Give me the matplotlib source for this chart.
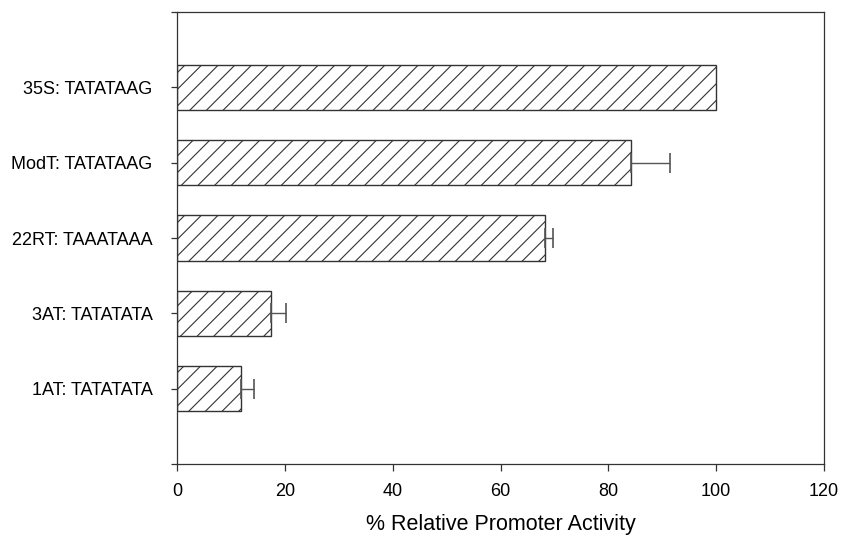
import matplotlib
matplotlib.use("Agg")
import matplotlib.pyplot as plt

# Promoter constructs (bottom to top) and their activity relative to 35S
constructs = ["1AT: TATATATA", "3AT: TATATATA", "22RT: TAAATAAA",
              "ModT: TATATAAG", "35S: TATATAAG"]
activity = [11.9, 17.4, 68.3, 84.2, 100.0]
activity_err = [2.3, 2.8, 1.5, 7.3, 0.0]
x_ticks = [0, 20, 40, 60, 80, 100, 120]

plt.rcParams["font.family"] = ["Liberation Sans", "DejaVu Sans"]
plt.rcParams["hatch.linewidth"] = 0.8
plt.rcParams["hatch.color"] = "#222222"

fig = plt.figure(figsize=(8.43, 5.38), dpi=100)
ax = fig.add_axes([0.210, 0.1375, 0.7675, 0.8402])

positions = list(range(1, len(constructs) + 1))
ax.barh(positions, activity, height=0.6, color="white",
        edgecolor="#333333", linewidth=1.0, hatch="//", zorder=2)

# one-sided (positive) error bars, only where an error was measured
err_pos = [p for p, e in zip(positions, activity_err) if e > 0]
err_val = [v for v, e in zip(activity, activity_err) if e > 0]
err_len = [e for e in activity_err if e > 0]
ax.errorbar(err_val, err_pos, xerr=[[0] * len(err_len), err_len],
            fmt="none", ecolor="#555555", elinewidth=1.0, capsize=7,
            capthick=1.2, zorder=3)

ax.set_xlim(0, 120)
ax.set_ylim(0, len(constructs) + 1)
ax.set_xticks(x_ticks)
ax.set_xticklabels([str(t) for t in x_ticks], fontsize=13)
ax.set_yticks(range(0, len(constructs) + 2))
ax.set_yticklabels([""] + constructs + [""], fontsize=13)

ax.tick_params(axis="x", direction="out", length=5, width=0.9, pad=9,
               color="#333333")
ax.tick_params(axis="y", direction="out", length=4.5, width=0.9, pad=13,
               color="#333333")

for side in ax.spines.values():
    side.set_color("#333333")
    side.set_linewidth(0.9)

ax.set_xlabel("% Relative Promoter Activity", fontsize=15.5, labelpad=10)

fig.savefig("out.png", dpi=100)
